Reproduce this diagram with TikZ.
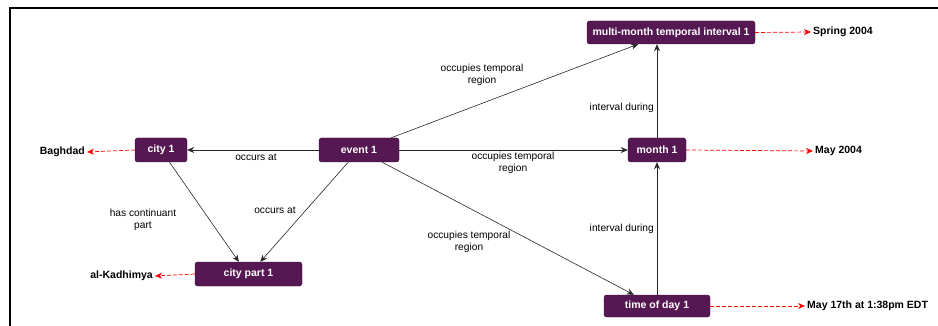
\documentclass[tikz,border=0pt]{standalone}
\usepackage{fontspec}
\setmainfont{Liberation Sans}
\usetikzlibrary{arrows.meta,calc}
\definecolor{nodepurple}{HTML}{561852}
\definecolor{nodeborder}{HTML}{3A0F37}
\tikzset{
  ent/.style={draw=nodeborder, fill=nodepurple, rounded corners=2.5pt, text=white,
    font=\fontsize{10.5}{12}\selectfont\bfseries, inner sep=0pt, minimum height=24pt},
  lit/.style={font=\fontsize{10.5}{12}\selectfont\bfseries, inner sep=2pt},
  lbl/.style={font=\fontsize{10.2}{12}\selectfont, inner sep=0pt, align=center},
  rel/.style={draw=black!85, line width=0.6pt, -{Stealth[length=7pt,width=6pt]}},
  val/.style={draw=red, dashed, dash pattern=on 4pt off 2pt, line width=0.7pt, -{Stealth[length=7pt,width=6pt]}}
}
\begin{document}
\begin{tikzpicture}[x=1pt,y=-1pt]
\useasboundingbox (0,0) rectangle (938,326);
\draw[line width=2pt] (10,326) -- (10,8) -- (938,8);

\node[ent, minimum width=52pt] (city) at (161,150) {city 1};
\node[ent, minimum width=80pt] (event) at (359,150) {event 1};
\node[ent, minimum width=168pt, minimum height=23pt] (mm) at (671,32.5) {multi-month temporal interval 1};
\node[ent, minimum width=58pt] (month) at (657,150) {month 1};
\node[ent, minimum width=107pt] (cp) at (248.5,274) {city part 1};
\node[ent, minimum width=106pt, minimum height=22pt] (tod) at (657,306) {time of day 1};

\node[lit, anchor=east] (baghdad) at (87,152) {Baghdad};
\node[lit, anchor=east] (kad) at (155,276) {al-Kadhimya};
\node[lit, anchor=west] (spring) at (811,32) {Spring 2004};
\node[lit, anchor=west] (may) at (813,151) {May 2004};
\node[lit, anchor=west] (may17) at (805,306) {May 17th at 1:38pm EDT};

\coordinate (mmin) at ($(mm.south west)!0.305!(mm.south east)$);
\coordinate (todin) at ($(tod.north west)!0.283!(tod.north east)$);
\coordinate (cpa) at ($(cp.north west)!0.41!(cp.north east)$);
\coordinate (cpb) at ($(cp.north west)!0.61!(cp.north east)$);

\draw[rel] (event) -- (city);
\draw[rel] (event) -- (mmin);
\draw[rel] (event) -- (month);
\draw[rel] (event) -- (todin);
\draw[rel] (city) -- (cpa);
\draw[rel] (event) -- (cpb);
\draw[rel] (month) -- (mm.south -| month);
\draw[rel] (tod) -- (month);

\draw[val] (city.west) -- (baghdad.east);
\draw[val] (cp.west) -- (kad.east);
\draw[val] (mm.east) -- (spring.west);
\draw[val] (month.east) -- (may.west);
\draw[val] (tod.east) -- (may17.west);

\node[lbl] (l1) at (256,157) {occurs at};
\node[lbl] (l2) at (482,75) {occupies temporal\\region};
\node[lbl] (l3) at (513,163) {occupies temporal\\region};
\node[lbl] (l4) at (469,242) {occupies temporal\\region};
\node[lbl, anchor=east] (l5) at (654,108) {interval during};
\node[lbl, anchor=east] (l6) at (654,229) {interval during};
\node[lbl] (l7) at (143,219.5) {has continuant\\part};
\node[lbl] (l8) at (275,210) {occurs at};
\end{tikzpicture}
\end{document}
